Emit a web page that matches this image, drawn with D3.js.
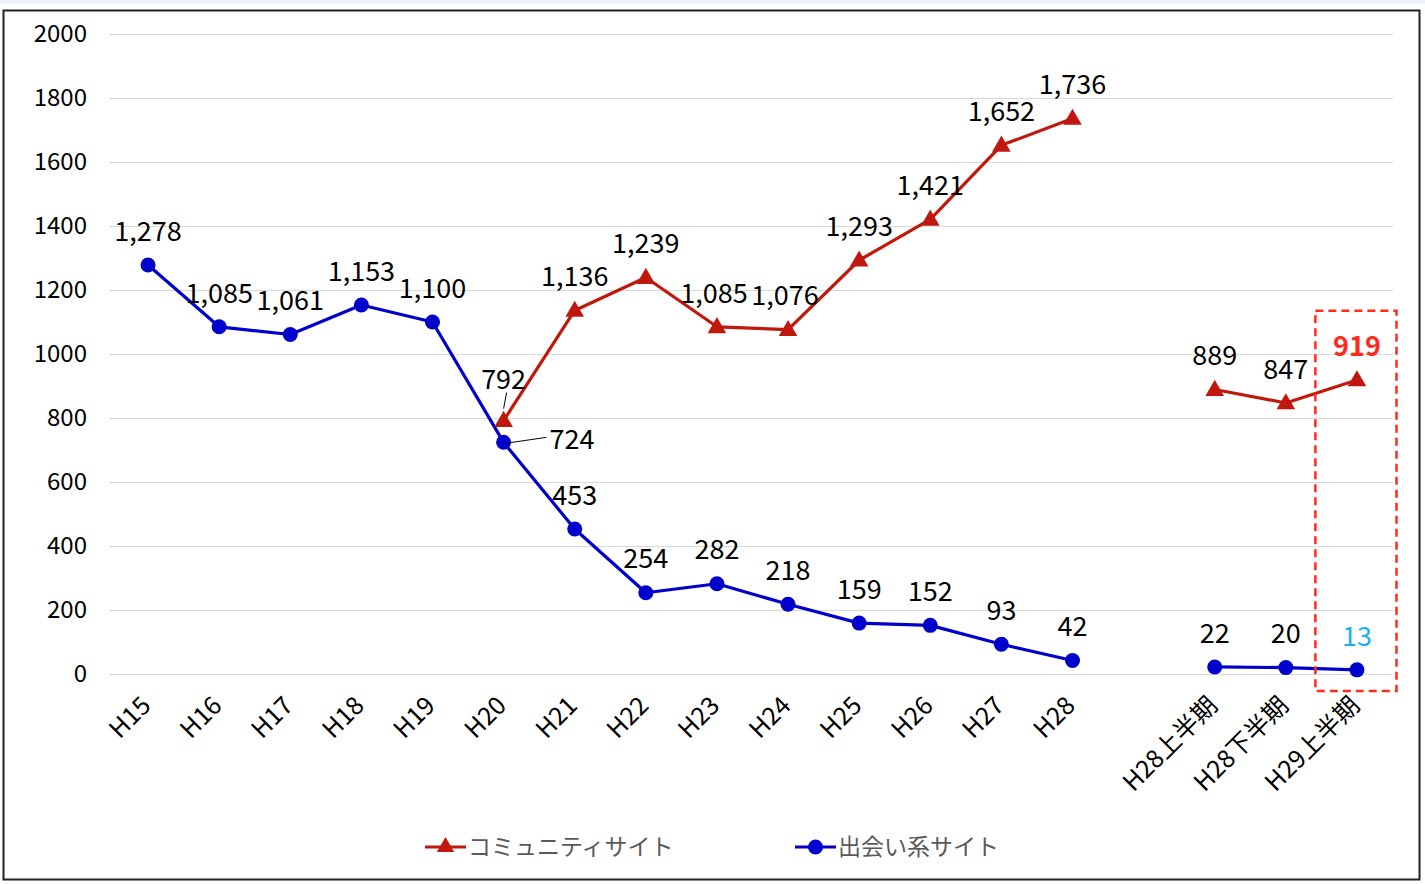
<!DOCTYPE html>
<html>
<head>
<meta charset="utf-8">
<script src="https://cdn.jsdelivr.net/npm/d3@7"></script>
<style>
  html, body { margin: 0; padding: 0; background: #fff; }
  svg { display: block; }
  text { font-family: "Noto Sans CJK JP", "Noto Sans", sans-serif; }
</style>
</head>
<body>
<svg id="chart" width="1425" height="884"></svg>
<script>
// ---- data ----
const categories = ["H15","H16","H17","H18","H19","H20","H21","H22","H23","H24","H25","H26","H27","H28","","H28上半期","H28下半期","H29上半期"];
const communityValues = [null,null,null,null,null,792,1136,1239,1085,1076,1293,1421,1652,1736,null,889,847,919];
const deaiValues = [1278,1085,1061,1153,1100,724,453,254,282,218,159,152,93,42,null,22,20,13];
const yTicks = [0,200,400,600,800,1000,1200,1400,1600,1800,2000];
const seriesNames = ["コミュニティサイト","出会い系サイト"];

// ---- layout ----
const svg = d3.select("#chart");
const W = 1425, H = 884;
const plot = {left: 112.5, right: 1392.5, top: 34, bottom: 674};

svg.append("rect").attr("x",0).attr("y",0).attr("width",W).attr("height",4).attr("fill","#eef1f8");
svg.append("rect").attr("x",3.5).attr("y",10.5).attr("width",1416).attr("height",869)
  .attr("fill","#fff").attr("stroke","#222").attr("stroke-width",2);

const x = d3.scaleBand().domain(categories.map((c,i)=>i)).range([plot.left, plot.right]);
const cx = i => x(i) + x.bandwidth()/2;
const y = d3.scaleLinear().domain([0,2000]).range([plot.bottom, plot.top]);

// gridlines
svg.append("g").selectAll("line").data(yTicks).join("line")
  .attr("x1", 110).attr("x2", 1393)
  .attr("y1", d=>Math.round(y(d))+0.5).attr("y2", d=>Math.round(y(d))+0.5)
  .attr("stroke","#d9d9d9").attr("stroke-width",1);

// y axis labels
const yAxis = d3.axisLeft(y).tickValues(yTicks).tickFormat(d3.format("d")).tickSize(0).tickPadding(0);
const yg = svg.append("g").attr("transform","translate(87,0)").call(yAxis);
yg.select(".domain").remove();
yg.selectAll("text").attr("font-size",24).attr("fill","#000")
  .style("font-family","'Noto Sans CJK JP', sans-serif");

// x axis labels
const xg = svg.append("g");
xg.selectAll("text").data(categories).join("text")
  .attr("transform",(d,i)=>`translate(${cx(i)-2},${701}) rotate(-45)`)
  .attr("text-anchor","end").attr("dy","0.35em")
  .attr("font-size",25).attr("fill","#000")
  .text(d=>d);

const red = "#C0180C", blue = "#0000CC";

function drawSeries(values, color, marker) {
  const line = d3.line().defined(d=>d!=null).x((d,i)=>cx(i)).y(d=>y(d));
  svg.append("path").datum(values).attr("d", line)
    .attr("fill","none").attr("stroke",color).attr("stroke-width",3.2).attr("stroke-linejoin","round");
  const pts = values.map((v,i)=>({v,i})).filter(d=>d.v!=null);
  if (marker === "tri") {
    svg.append("g").selectAll("path").data(pts).join("path")
      .attr("d", d3.symbol().type(d3.symbolTriangle).size(150))
      .attr("transform", d=>`translate(${cx(d.i)},${y(d.v)+1})`)
      .attr("fill", color);
  } else {
    svg.append("g").selectAll("circle").data(pts).join("circle")
      .attr("cx", d=>cx(d.i)).attr("cy", d=>y(d.v)).attr("r",7.5).attr("fill",color);
  }
}
drawSeries(deaiValues, blue, "circle");
drawSeries(communityValues, red, "tri");

// data labels
const fmt = d3.format(",");
function labels(values, special) {
  const pts = values.map((v,i)=>({v,i})).filter(d=>d.v!=null);
  svg.append("g").selectAll("text").data(pts).join("text")
    .attr("x", d => (special[d.i] && special[d.i].x != null) ? special[d.i].x : cx(d.i))
    .attr("y", d => (special[d.i] && special[d.i].y != null) ? special[d.i].y : y(d.v) - 34)
    .attr("text-anchor", d => (special[d.i] && special[d.i].anchor) || "middle")
    .attr("dy","0.36em")
    .attr("font-size",27)
    .attr("font-weight", d => (special[d.i] && special[d.i].weight) || "normal")
    .attr("fill", d => (special[d.i] && special[d.i].color) || "#000")
    .text(d=>fmt(d.v));
}
labels(deaiValues, {
  1: {x: cx(1)},
  5: {x: cx(5)+46, y: y(deaiValues[5]) - 3, anchor: "start"},
  17: {color: "#1AB0F0"}
});
labels(communityValues, {
  5: {y: y(communityValues[5]) - 41},
  8: {x: cx(8)-3},
  9: {x: cx(9)-3},
  17: {color: "#FF2A1A", weight: "bold"}
});

// leader lines
svg.append("line").attr("x1", cx(5)+3).attr("y1", y(communityValues[5])-28)
  .attr("x2", cx(5)).attr("y2", y(communityValues[5])-12).attr("stroke","#000").attr("stroke-width",1);
svg.append("line").attr("x1", cx(5)+2).attr("y1", y(deaiValues[5])+1)
  .attr("x2", cx(5)+43).attr("y2", y(deaiValues[5])-5).attr("stroke","#000").attr("stroke-width",1);

// highlight box
svg.append("rect")
  .attr("x", x(17)-6).attr("y", y(1135)).attr("width", x.bandwidth()+10).attr("height", y(-53)-y(1135))
  .attr("fill","none").attr("stroke","#FF2A1A").attr("stroke-width",2.5).attr("stroke-dasharray","8,5");

// legend
const lg = svg.append("g");
const legendItems = [
  {name: seriesNames[0], color: red, marker: "tri", x: 425},
  {name: seriesNames[1], color: blue, marker: "circle", x: 795}
];
legendItems.forEach(it => {
  const g = lg.append("g").attr("transform", `translate(${it.x},847)`);
  g.append("line").attr("x1",0).attr("x2",41).attr("y1",0).attr("y2",0).attr("stroke",it.color).attr("stroke-width",3);
  if (it.marker === "tri") {
    g.append("path").attr("d", d3.symbol().type(d3.symbolTriangle).size(130)).attr("transform","translate(20.5,0)").attr("fill",it.color);
  } else {
    g.append("circle").attr("cx",20.5).attr("cy",0).attr("r",7.5).attr("fill",it.color);
  }
  g.append("text").attr("x",43).attr("y",0).attr("dy","0.36em").attr("font-size",23).attr("fill","#595959").text(it.name);
});
</script>
</body>
</html>
